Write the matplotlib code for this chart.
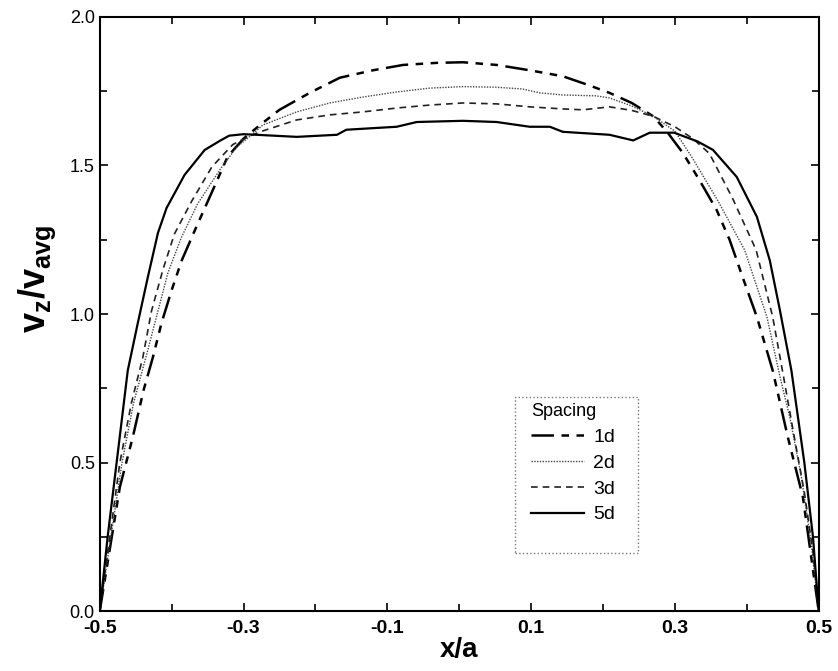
import numpy as np
import matplotlib.pyplot as plt
from matplotlib.ticker import MultipleLocator
from matplotlib.patches import Rectangle

plt.rcParams['font.family'] = ['Liberation Sans', 'DejaVu Sans']
plt.rcParams['mathtext.fontset'] = 'custom'
plt.rcParams['mathtext.rm'] = 'Liberation Sans'
plt.rcParams['mathtext.bf'] = 'Liberation Sans:bold'

# velocity profiles, one per spacing
x_1d = [-0.5, -0.472, -0.454, -0.439, -0.426, -0.414, -0.400, -0.386, -0.368, -0.344,
        -0.322, -0.300, -0.277, -0.250, -0.208, -0.166, -0.120, -0.078, -0.031, 0.005,
        0.052, 0.098, 0.144, 0.180, 0.209, 0.240, 0.270, 0.290, 0.311, 0.334,
        0.358, 0.376, 0.394, 0.414, 0.436, 0.457, 0.478, 0.5]
v_1d = [0, 0.418, 0.586, 0.744, 0.855, 0.97, 1.08, 1.18, 1.28, 1.41,
        1.53, 1.59, 1.636, 1.687, 1.744, 1.795, 1.82, 1.838, 1.845, 1.847,
        1.838, 1.82, 1.80, 1.77, 1.744, 1.71, 1.665, 1.61, 1.542, 1.451,
        1.35, 1.25, 1.125, 0.99, 0.81, 0.586, 0.384, 0]

x_2d = [-0.5, -0.469, -0.453, -0.433, -0.419, -0.405, -0.386, -0.364, -0.333, -0.31,
        -0.29, -0.273, -0.226, -0.18, -0.134, -0.087, -0.041, 0.005, 0.052, 0.088,
        0.112, 0.144, 0.19, 0.209, 0.24, 0.27, 0.30, 0.323, 0.36, 0.397,
        0.428, 0.446, 0.46, 0.476, 0.49, 0.5]
v_2d = [0, 0.5, 0.7, 0.88, 1.01, 1.14, 1.26, 1.37, 1.485, 1.56,
        1.60, 1.636, 1.68, 1.71, 1.73, 1.747, 1.76, 1.765, 1.763, 1.757,
        1.744, 1.737, 1.734, 1.727, 1.70, 1.665, 1.615, 1.53, 1.38, 1.215,
        0.99, 0.79, 0.65, 0.45, 0.22, 0]

x_3d = [-0.5, -0.472, -0.456, -0.44, -0.428, -0.412, -0.396, -0.372, -0.344, -0.315,
        -0.29, -0.277, -0.226, -0.18, -0.134, -0.087, -0.041, 0.005, 0.052, 0.098,
        0.144, 0.172, 0.209, 0.24, 0.27, 0.30, 0.325, 0.348, 0.38, 0.413,
        0.436, 0.451, 0.465, 0.48, 0.492, 0.5]
v_3d = [0, 0.5, 0.7, 0.855, 1.01, 1.15, 1.27, 1.38, 1.495, 1.57,
        1.60, 1.613, 1.653, 1.67, 1.68, 1.693, 1.703, 1.71, 1.707, 1.697,
        1.69, 1.687, 1.697, 1.685, 1.665, 1.63, 1.59, 1.54, 1.39, 1.215,
        0.99, 0.79, 0.6, 0.4, 0.2, 0]

x_5d = [-0.5, -0.489, -0.475, -0.461, -0.447, -0.433, -0.419, -0.407, -0.382, -0.354,
        -0.332, -0.32, -0.30, -0.282, -0.226, -0.17, -0.157, -0.087, -0.059, 0.005,
        0.052, 0.098, 0.126, 0.144, 0.209, 0.242, 0.265, 0.299, 0.332, 0.353,
        0.386, 0.414, 0.432, 0.446, 0.462, 0.48, 0.492, 0.5]
v_5d = [0, 0.25, 0.53, 0.81, 0.97, 1.125, 1.273, 1.357, 1.468, 1.552,
        1.584, 1.60, 1.605, 1.603, 1.596, 1.603, 1.62, 1.63, 1.646, 1.65,
        1.646, 1.63, 1.63, 1.613, 1.603, 1.584, 1.61, 1.61, 1.58, 1.552,
        1.461, 1.327, 1.18, 1.013, 0.81, 0.5, 0.25, 0]

x_ticks = [-0.5, -0.3, -0.1, 0.1, 0.3, 0.5]
y_ticks = [0.0, 0.5, 1.0, 1.5, 2.0]

fig = plt.figure(figsize=(8.38, 6.71), dpi=100)
ax = fig.add_axes([0.119, 0.089, 0.858, 0.886])

ax.plot(x_1d, v_1d, color='black', lw=1.8, dashes=(9, 3, 3, 3, 3, 3), label='1d')
ax.plot(x_2d, v_2d, color='#444444', lw=1.0, ls=(0, (1, 1)), label='2d')
ax.plot(x_3d, v_3d, color='#222222', lw=1.2, dashes=(4, 3), label='3d')
ax.plot(x_5d, v_5d, color='black', lw=1.6, label='5d')

ax.set_xlim(-0.5, 0.5)
ax.set_ylim(0, 2.0)
ax.set_xticks(x_ticks)
ax.set_xticklabels([f'{t:.1f}' for t in x_ticks], fontweight='bold', fontsize=14)
ax.set_yticks(y_ticks)
ax.set_yticklabels([f'{t:.1f}' for t in y_ticks], fontsize=13)
ax.xaxis.set_minor_locator(MultipleLocator(0.1))
ax.yaxis.set_minor_locator(MultipleLocator(0.25))
ax.tick_params(which='both', direction='in', top=True, right=True, width=1.2)
ax.tick_params(axis='x', pad=6)
ax.tick_params(which='major', length=6)
ax.tick_params(which='minor', length=5)
for s in ax.spines.values():
    s.set_linewidth(1.5)

ax.set_xlabel('x/a', fontsize=20, fontweight='bold', labelpad=0)
ax.set_ylabel(r'$\mathbf{v_z/v_{avg}}$', fontsize=26)
ax.yaxis.set_label_coords(-0.058, 0.56)

# legend box drawn separately so it can sit exactly where the original has it
ax.add_patch(Rectangle((0.577, 0.098), 0.172, 0.263, transform=ax.transAxes,
                       fill=False, edgecolor='#777777', lw=1.0, ls=':', zorder=4))
leg = ax.legend(title='Spacing', loc='upper left', bbox_to_anchor=(0.6, 0.35),
                fontsize=14, title_fontsize=13, frameon=False,
                handlelength=2.7, handletextpad=0.5, borderpad=0, borderaxespad=0,
                labelspacing=0.42)
leg._legend_box.align = 'left'

plt.savefig('out.png', dpi=100)
